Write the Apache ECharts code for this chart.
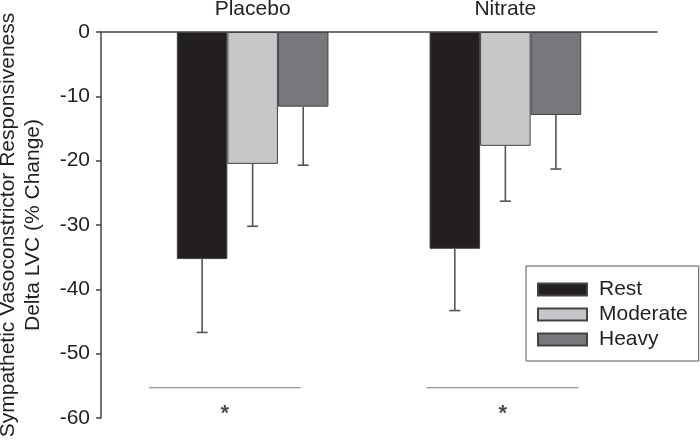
<!DOCTYPE html>
<html>
<head>
<meta charset="utf-8">
<script src="https://cdn.jsdelivr.net/npm/echarts@6/dist/echarts.min.js"></script>
<style>html,body{margin:0;padding:0;background:#fff;}#c{width:700px;height:443px;}</style>
</head>
<body>
<div id="c"></div>
<script>
// ---- data ----
const categories = ['Placebo', 'Nitrate'];
const seriesNames = ['Rest', 'Moderate', 'Heavy'];
const restValues = [-35.3, -33.7];
const moderateValues = [-20.5, -17.7];
const heavyValues = [-11.6, -12.9];
const restErrEnd = [-46.7, -43.3];
const moderateErrEnd = [-30.2, -26.3];
const heavyErrEnd = [-20.7, -21.3];
const yMin = -60, yMax = 0, yInterval = 10;
// significance brackets (data units: x in group positions, y in % change)
const sigFrom = [0.59, 1.69];
const sigTo = [1.19, 2.29];
const sigY = [-55.3, -55.3];
const sigStarY = [-58.8, -58.8];
const sigText = ['*', '*'];

// ---- styles ----
const colors = ['#231f20', '#c6c7c9', '#77787b'];
const barFrac = 0.2;
const textColor = '#231f20';
const font = 'Liberation Sans, Arial, Helvetica, sans-serif';

const groupPos = categories.map((c, i) => i + 1);
const values = [restValues, moderateValues, heavyValues];
const errEnds = [restErrEnd, moderateErrEnd, heavyErrEnd];

const series = [];
seriesNames.forEach((name, k) => {
  series.push({
    name: name,
    type: 'bar',
    barWidth: (barFrac * 100) + '%',
    barGap: '0%',
    itemStyle: { color: colors[k], borderColor: '#444', borderWidth: 1 },
    data: groupPos.map((x, i) => [x, values[k][i]]),
    z: 2
  });
});
seriesNames.forEach((name, k) => {
  series.push({
    name: name + ' error',
    type: 'custom',
    z: 3,
    silent: true,
    encode: { x: 0, y: [1, 2] },
    data: groupPos.map((x, i) => [x, values[k][i], errEnds[k][i], (k - 1) * barFrac]),
    renderItem: function (params, api) {
      const xv = api.value(0) + api.value(3);
      const top = api.coord([xv, api.value(1)]);
      const bot = api.coord([xv, api.value(2)]);
      const st = { stroke: '#555', lineWidth: 1.6 };
      return {
        type: 'group',
        children: [
          { type: 'line', shape: { x1: top[0], y1: top[1], x2: bot[0], y2: bot[1] }, style: st },
          { type: 'line', shape: { x1: bot[0] - 5.5, y1: bot[1], x2: bot[0] + 5.5, y2: bot[1] }, style: st }
        ]
      };
    }
  });
});
// significance lines
series.push({
  name: 'sig',
  type: 'custom',
  silent: true,
  encode: { x: [0, 1], y: 2 },
  data: sigFrom.map((f, i) => [f, sigTo[i], sigY[i]]),
  renderItem: function (params, api) {
    const a = api.coord([api.value(0), api.value(2)]);
    const b = api.coord([api.value(1), api.value(2)]);
    return { type: 'line', shape: { x1: a[0], y1: a[1], x2: b[0], y2: b[1] }, style: { stroke: '#777', lineWidth: 1.2 } };
  }
});
series.push({
  name: 'stars',
  type: 'scatter',
  silent: true,
  symbolSize: 0,
  data: sigFrom.map((f, i) => [(f + sigTo[i]) / 2, sigStarY[i], sigText[i]]),
  label: {
    show: true,
    position: 'inside',
    formatter: p => p.data[2],
    fontSize: 22,
    fontWeight: 'bold',
    fontFamily: font,
    color: textColor,
    offset: [0, 4]
  }
});

const chart = echarts.init(document.getElementById('c'), null, { renderer: 'canvas' });
chart.setOption({
  animation: false,
  backgroundColor: '#fff',
  grid: { left: 101, right: 43, top: 32, bottom: 25, containLabel: false, outerBoundsMode: 'none' },
  legend: {
    data: seriesNames,
    orient: 'vertical',
    left: 526,
    top: 266,
    padding: [13, 11, 11, 11],
    itemGap: 4,
    itemWidth: 49,
    itemHeight: 12,
    borderColor: '#555',
    borderWidth: 1,
    icon: 'rect',
    selectedMode: false,
    textStyle: { fontSize: 21, fontFamily: font, color: textColor, padding: [0, 0, 0, 7] }
  },
  xAxis: {
    type: 'value',
    position: 'top',
    min: 0.4,
    max: 2.6,
    axisLine: { show: true, onZero: false, lineStyle: { color: '#444', width: 1.5 } },
    axisTick: { show: false },
    splitLine: { show: false },
    axisLabel: {
      customValues: groupPos,
      formatter: v => categories[Math.round(v) - 1] || '',
      fontSize: 21,
      fontFamily: font,
      color: textColor,
      margin: 12
    }
  },
  yAxis: {
    type: 'value',
    min: yMin,
    max: yMax,
    interval: yInterval,
    name: 'Sympathetic Vasoconstrictor Responsiveness\nDelta LVC (% Change)',
    nameLocation: 'middle',
    nameGap: 55,
    nameTextStyle: { fontSize: 21, fontFamily: font, color: textColor, lineHeight: 25 },
    axisLine: { show: true, lineStyle: { color: '#444', width: 1.5 } },
    axisTick: { show: true, inside: false, length: 5, lineStyle: { color: '#444', width: 1.5 } },
    splitLine: { show: false },
    axisLabel: { fontSize: 21, fontFamily: font, color: textColor, margin: 11 }
  },
  series: series
});
</script>
</body>
</html>
